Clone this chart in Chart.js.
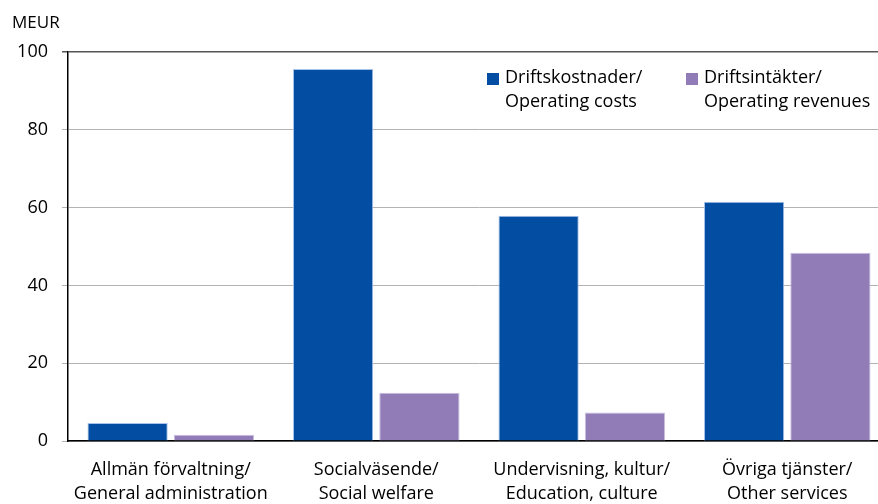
<!DOCTYPE html>
<html>
<head>
<meta charset="utf-8">
<script src="https://cdn.jsdelivr.net/npm/chart.js@4"></script>
<style>
  html, body { margin: 0; padding: 0; background: #fff; overflow: hidden; }
  #wrap { position: relative; width: 890px; height: 504px; }
</style>
</head>
<body>
<div id="wrap"><canvas id="chart"></canvas></div>
<script>
// Data
const categories = [
  ['Allmän förvaltning/', 'General administration'],
  ['Socialväsende/', 'Social welfare'],
  ['Undervisning, kultur/', 'Education, culture'],
  ['Övriga tjänster/', 'Other services']
];
const seriesNames = [
  ['Driftskostnader/', 'Operating costs'],
  ['Driftsintäkter/', 'Operating revenues']
];
const operatingCosts = [4.6, 95.6, 57.9, 61.5];
const operatingRevenues = [1.6, 12.4, 7.3, 48.4];
const yTicks = [0, 20, 40, 60, 80, 100];
const unitLabel = 'MEUR';

const FONT = '"Open Sans", Lato, sans-serif';
const colors = ['#034ea2', '#927cb8'];

// Legend + unit label drawn on canvas
const extras = {
  id: 'extras',
  afterDraw(chart) {
    const c = chart.ctx;
    c.save();
    c.fillStyle = '#000';
    c.font = '17px ' + FONT;
    c.textBaseline = 'middle';
    c.textAlign = 'left';
    c.fillText(unitLabel, 12, 23);

    c.font = '18px ' + FONT;
    const legendX = [487, 686];
    chart.data.datasets.forEach((ds, i) => {
      const x = legendX[i];
      c.fillStyle = ds.backgroundColor;
      c.fillRect(x, 73, 12, 12);
      c.fillStyle = '#000';
      seriesNames[i].forEach((line, j) => {
        c.fillText(line, x + 18, 78 + j * 24);
      });
    });
    c.restore();
  }
};

const ctx = document.getElementById('chart').getContext('2d');
new Chart(ctx, {
  type: 'bar',
  data: {
    labels: categories,
    datasets: [
      { label: seriesNames[0].join(' '), data: operatingCosts, backgroundColor: colors[0], borderColor: '#a9c4e8', borderWidth: 1 },
      { label: seriesNames[1].join(' '), data: operatingRevenues, backgroundColor: colors[1], borderColor: '#c9bde0', borderWidth: 1 }
    ]
  },
  options: {
    responsive: true,
    maintainAspectRatio: false,
    animation: false,
    layout: { padding: { top: 52, left: 0, right: 0, bottom: 0 } },
    datasets: { bar: { categoryPercentage: 0.84, barPercentage: 0.93 } },
    plugins: { legend: { display: false }, tooltip: { enabled: false } },
    scales: {
      x: {
        grid: { display: false, drawTicks: false },
        border: { color: '#000', width: 1.5 },
        ticks: { color: '#000', padding: 17, font: { family: FONT, size: 18, lineHeight: 1.34 }, maxRotation: 0 },
        afterFit(scale) { scale.height = 63; }
      },
      y: {
        min: 0,
        max: 100,
        afterBuildTicks(scale) { scale.ticks = yTicks.map(v => ({ value: v })); },
        grid: {
          color: ctx => ctx.tick && ctx.tick.value === 100 ? '#555' : '#b3b3b3',
          lineWidth: ctx => ctx.tick && ctx.tick.value === 100 ? 1.5 : 1,
          tickLength: 6
        },
        border: { color: '#000', width: 1.5 },
        ticks: { color: '#000', padding: 14, font: { family: FONT, size: 18 } },
        afterFit(scale) { scale.width = 68; }
      }
    }
  },
  plugins: [extras]
});
</script>
</body>
</html>
